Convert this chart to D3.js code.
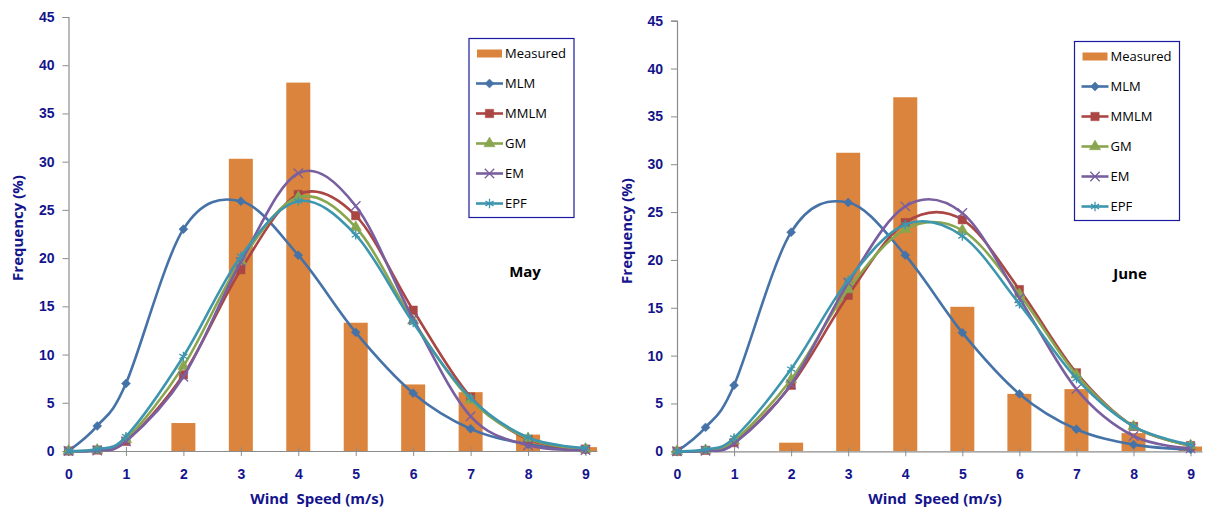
<!DOCTYPE html>
<html>
<head>
<meta charset="utf-8">
<script src="https://cdn.jsdelivr.net/npm/d3@7"></script>
<style>
  html, body { margin: 0; padding: 0; background: #fff; }
  svg { display: block; font-family: 'Open Sans', 'Liberation Sans', sans-serif; }
</style>
</head>
<body>
<div id="chartDiv"></div>
<script>
// wind speed points of the fitted curves and of the measured bars (m/s)
const windSpeed = [0, 0.5, 1, 2, 3, 4, 5, 6, 7, 8, 9]
const barSpeed = [0, 1, 2, 3, 4, 5, 6, 7, 8, 9]
const yTicks = [0, 5, 10, 15, 20, 25, 30, 35, 40, 45]

// May, frequency (%)
const mayMeasured = [0, 0, 2.9, 30.3, 38.2, 13.3, 6.9, 6.1, 1.7, 0.4]
const mayMLM = [0, 2.6, 7.0, 23.0, 25.9, 20.3, 12.3, 6.0, 2.3, 0.7, 0.1]
const mayMMLM = [0, 0.1, 1.0, 7.9, 18.8, 26.6, 24.4, 14.6, 5.6, 1.2, 0.2]
const mayGM = [0, 0.1, 1.2, 8.8, 19.7, 26.3, 23.2, 13.5, 5.3, 1.3, 0.2]
const mayEM = [0, 0.05, 1.0, 7.7, 19.6, 28.8, 25.4, 13.7, 3.6, 0.6, 0.1]
const mayEPF = [0, 0.2, 1.5, 9.8, 20.2, 25.9, 22.4, 13.3, 5.5, 1.4, 0.3]

// June, frequency (%)
const juneMeasured = [0, 0, 0.9, 31.2, 37.0, 15.1, 6.0, 6.5, 1.9, 0.5]
const juneMLM = [0, 2.5, 6.9, 22.9, 26.0, 20.5, 12.4, 6.0, 2.3, 0.7, 0.2]
const juneMMLM = [0, 0.1, 0.9, 6.9, 16.3, 23.9, 24.2, 16.9, 8.2, 2.6, 0.6]
const juneGM = [0, 0.1, 1.1, 7.5, 16.9, 23.2, 23.1, 16.4, 8.0, 2.6, 0.6]
const juneEM = [0, 0.05, 0.8, 7.0, 17.6, 25.6, 24.9, 16.0, 6.5, 1.6, 0.3]
const juneEPF = [0, 0.2, 1.4, 8.6, 17.9, 23.7, 22.5, 15.4, 7.6, 2.6, 0.7]

const seriesNames = ['MLM', 'MMLM', 'GM', 'EM', 'EPF']
const seriesColors = ['#4572A7', '#AA4643', '#89A54E', '#7A5FA0', '#3D96AE']
const barColor = '#DB843D'
const textBlue = '#14148C'

const markerTypes = {
  MLM: { type: d3.symbolSquare, size: 40, fill: true, rotate: 45 },
  MMLM: { type: d3.symbolSquare, size: 70, fill: true, rotate: 0 },
  GM: { type: d3.symbolTriangle, size: 55, fill: true, rotate: 0 },
  EM: { type: d3.symbolX || d3.symbolCross, size: 60, fill: false, rotate: 0 },
  EPF: { type: d3.symbolAsterisk || d3.symbolCross, size: 60, fill: false, rotate: 0 }
}

const width = 1207
const height = 513

const svg = d3.select('#chartDiv').append('svg')
  .attr('width', width)
  .attr('height', height)

function drawMarker (g, name, color, x, y) {
  const m = markerTypes[name]
  g.append('path')
    .attr('transform', `translate(${x},${y}) rotate(${m.rotate})`)
    .attr('d', d3.symbol().type(m.type).size(m.size)())
    .attr('fill', m.fill ? color : 'none')
    .attr('stroke', color)
    .attr('stroke-width', m.fill ? 0.5 : 1.3)
}

function drawPanel (cfg) {
  const g = svg.append('g')

  const xScale = d3.scaleLinear()
    .domain([0, 9.2])
    .range([cfg.left, cfg.right])

  const yScale = d3.scaleLinear()
    .domain([0, 45])
    .range([cfg.bottom, cfg.top])

  // clip for the bars at the plot edges
  g.append('clipPath')
    .attr('id', cfg.id + 'clip')
    .append('rect')
    .attr('x', cfg.left)
    .attr('y', cfg.top - 5)
    .attr('width', cfg.right - cfg.left)
    .attr('height', cfg.bottom - cfg.top + 5)

  // measured bars
  const barW = 24
  g.append('g')
    .attr('clip-path', `url(#${cfg.id}clip)`)
    .selectAll('rect')
    .data(barSpeed.map((s, i) => ({ s, v: cfg.measured[i] })).filter(d => d.v > 0))
    .enter()
    .append('rect')
    .attr('x', d => xScale(d.s) - barW / 2)
    .attr('y', d => yScale(d.v))
    .attr('width', barW)
    .attr('height', d => yScale(0) - yScale(d.v))
    .attr('fill', barColor)

  // axes
  const yAxis = g.append('g')
    .attr('transform', `translate(${cfg.left},0)`)
    .call(d3.axisLeft(yScale).tickValues(yTicks).tickSize(6).tickPadding(8))
  yAxis.select('.domain').attr('stroke', '#8c8c8c').attr('stroke-width', 1.2)
  yAxis.selectAll('.tick line').attr('stroke', '#8c8c8c')
  yAxis.selectAll('text')
    .attr('fill', textBlue)
    .style('font-size', '14px')
    .style('font-weight', 'bold')

  const xAxis = g.append('g')
    .attr('transform', `translate(0,${cfg.bottom})`)
    .call(d3.axisBottom(xScale).tickValues(barSpeed).tickSize(5).tickPadding(13).tickSizeOuter(0))
  xAxis.select('.domain').attr('stroke', '#8c8c8c').attr('stroke-width', 1.2)
  xAxis.selectAll('.tick line').attr('stroke', '#8c8c8c').attr('y1', -4).attr('y2', 5)
  xAxis.selectAll('text')
    .attr('fill', textBlue)
    .style('font-size', '14px')
    .style('font-weight', 'bold')

  // fitted curves
  const line = d3.line()
    .x(d => xScale(d.s))
    .y(d => yScale(d.v))
    .curve(d3.curveCatmullRom.alpha(0))

  seriesNames.forEach((name, k) => {
    const pts = windSpeed.map((s, i) => ({ s, v: cfg.series[k][i] }))
    const sg = g.append('g')
    sg.append('path')
      .datum(pts)
      .attr('d', line)
      .attr('fill', 'none')
      .attr('stroke', seriesColors[k])
      .attr('stroke-width', 2.6)
    pts.forEach(p => drawMarker(sg, name, seriesColors[k], xScale(p.s), yScale(p.v)))
  })

  // axis titles
  g.append('text')
    .attr('transform', `translate(${cfg.yTitleX},${cfg.yTitleY}) rotate(-90)`)
    .attr('text-anchor', 'middle')
    .attr('dy', '0.35em')
    .attr('fill', textBlue)
    .style('font-size', '15px')
    .style('font-weight', 'bold')
    .text('Frequency (%)')

  g.append('text')
    .attr('x', cfg.xTitleX)
    .attr('y', 499)
    .attr('text-anchor', 'middle')
    .attr('dy', '0.35em')
    .attr('fill', textBlue)
    .style('font-size', '15px')
    .style('font-weight', 'bold')
    .style('white-space', 'pre')
    .text('Wind  Speed (m/s)')

  // month label
  g.append('text')
    .attr('x', cfg.monthX)
    .attr('y', cfg.monthY)
    .attr('text-anchor', 'middle')
    .attr('dy', '0.35em')
    .attr('fill', '#000')
    .style('font-size', '15px')
    .style('font-weight', 'bold')
    .text(cfg.month)

  // legend
  const lg = g.append('g')
    .attr('transform', `translate(${cfg.legendX},${cfg.legendY})`)
  lg.append('rect')
    .attr('width', 105)
    .attr('height', 179)
    .attr('fill', '#fff')
    .attr('stroke', '#1a1aa0')
    .attr('stroke-width', 1.2)

  const rowY = i => 15 + i * 30
  lg.append('rect')
    .attr('x', 8)
    .attr('y', rowY(0) - 4)
    .attr('width', 25)
    .attr('height', 8)
    .attr('fill', barColor)
  lg.append('text')
    .attr('x', 36)
    .attr('y', rowY(0))
    .attr('dy', '0.35em')
    .style('font-size', '13px')
    .text('Measured')

  seriesNames.forEach((name, k) => {
    const y = rowY(k + 1)
    lg.append('line')
      .attr('x1', 7)
      .attr('x2', 34)
      .attr('y1', y)
      .attr('y2', y)
      .attr('stroke', seriesColors[k])
      .attr('stroke-width', 2.6)
    drawMarker(lg, name, seriesColors[k], 20.5, y)
    lg.append('text')
      .attr('x', 36)
      .attr('y', y)
      .attr('dy', '0.35em')
      .style('font-size', '13px')
      .text(name)
  })
}

drawPanel({
  id: 'may',
  month: 'May',
  left: 68.5,
  right: 597,
  top: 17,
  bottom: 451,
  measured: mayMeasured,
  series: [mayMLM, mayMMLM, mayGM, mayEM, mayEPF],
  yTitleX: 18,
  yTitleY: 228,
  xTitleX: 317,
  monthX: 525,
  monthY: 272,
  legendX: 469,
  legendY: 38.5
})

drawPanel({
  id: 'june',
  month: 'June',
  left: 677,
  right: 1202,
  top: 20.7,
  bottom: 451.3,
  measured: juneMeasured,
  series: [juneMLM, juneMMLM, juneGM, juneEM, juneEPF],
  yTitleX: 627,
  yTitleY: 231,
  xTitleX: 935,
  monthX: 1130,
  monthY: 274,
  legendX: 1074.5,
  legendY: 41.5
})
</script>
</body>
</html>
